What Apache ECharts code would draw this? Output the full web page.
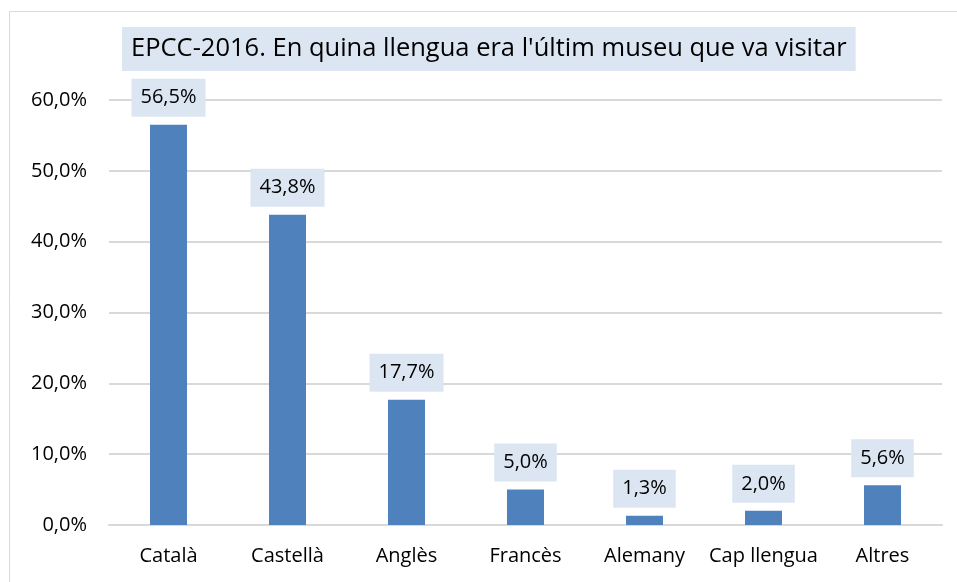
<!DOCTYPE html>
<html>
<head>
<meta charset="utf-8">
<script src="https://cdn.jsdelivr.net/npm/echarts@6/dist/echarts.min.js"></script>
<style>
  html, body { margin: 0; padding: 0; background: #fff; }
  #chart { width: 957px; height: 582px; }
</style>
</head>
<body>
<div id="chart"></div>
<script>
const titleText = "EPCC-2016. En quina llengua era l'últim museu que va visitar"
const categories = ['Català', 'Castellà', 'Anglès', 'Francès', 'Alemany', 'Cap llengua', 'Altres']
const values = [56.5, 43.8, 17.7, 5.0, 1.3, 2.0, 5.6]

const fontFamily = '"Open Sans", sans-serif'

function pct(v) {
  return v.toFixed(1).replace('.', ',') + '%'
}

const chart = echarts.init(document.getElementById('chart'))

chart.setOption({
  animation: false,
  graphic: [
    {
      type: 'rect',
      shape: { x: 9.5, y: 11.5, width: 960, height: 600 },
      style: { fill: 'none', stroke: '#D9D9D9', lineWidth: 1 },
      silent: true
    }
  ],
  title: {
    text: titleText,
    left: 122,
    top: 27,
    backgroundColor: '#DCE6F2',
    padding: [9, 9, 9, 9],
    textStyle: {
      fontFamily: fontFamily,
      fontSize: 25.5,
      fontWeight: 'normal',
      color: '#000',
      lineHeight: 26
    }
  },
  grid: {
    left: 109,
    right: 15,
    top: 100,
    bottom: 57
  },
  xAxis: {
    type: 'category',
    data: categories,
    axisLine: { show: true, lineStyle: { color: '#D9D9D9', width: 2 } },
    axisTick: { show: false },
    axisLabel: {
      interval: 0,
      fontFamily: fontFamily,
      fontSize: 20,
      color: '#000',
      margin: 21
    }
  },
  yAxis: {
    type: 'value',
    min: 0,
    max: 60,
    interval: 10,
    axisLine: { show: false },
    axisTick: { show: false },
    splitLine: { lineStyle: { color: '#D9D9D9', width: 2 } },
    axisLabel: {
      fontFamily: fontFamily,
      fontSize: 20,
      color: '#000',
      margin: 22,
      formatter: v => pct(v)
    }
  },
  series: [
    {
      type: 'bar',
      data: values,
      barWidth: 37,
      itemStyle: { color: '#4F81BD' },
      label: {
        show: true,
        position: 'top',
        distance: 8,
        backgroundColor: '#DCE6F2',
        padding: [8, 9, 8, 9],
        lineHeight: 22,
        fontFamily: fontFamily,
        fontSize: 20,
        color: '#000',
        formatter: p => pct(p.value)
      }
    }
  ]
})
</script>
</body>
</html>
